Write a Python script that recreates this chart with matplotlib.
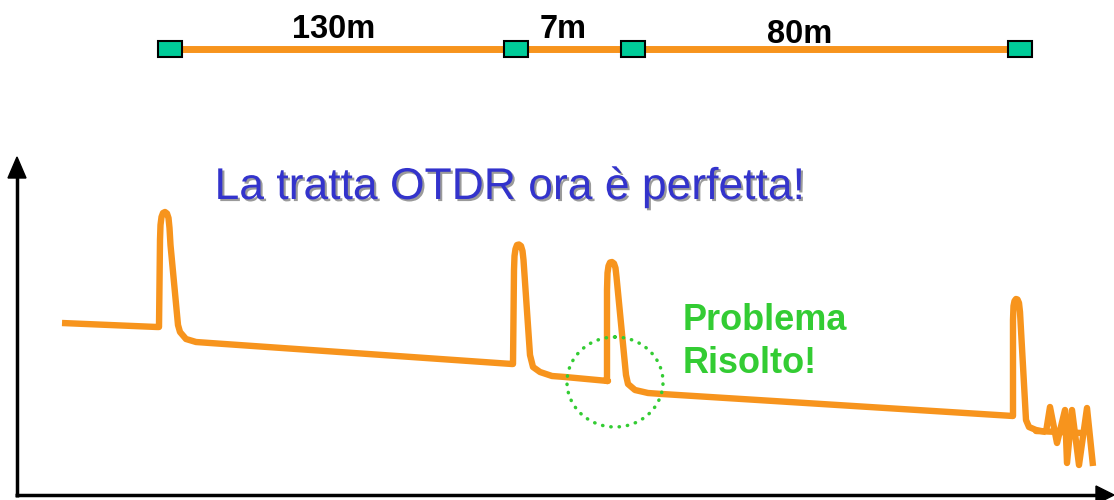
import matplotlib
matplotlib.use('Agg')
import matplotlib.pyplot as plt
import matplotlib.patheffects as pe
from matplotlib.patches import Rectangle, Ellipse, Polygon

plt.rcParams['font.family'] = ['Liberation Sans', 'DejaVu Sans']

# link diagram on top: connector positions and span lengths
connector_x = [170, 516, 633, 1020]
span_labels = ['130m', '7m', '80m']
span_label_x = [334, 563, 800]
span_label_y = [38, 38, 43]

# OTDR trace (distance, level), screen units
trace_x = [62, 157, 159, 160, 160.5, 161.5, 163, 165, 167, 168.5, 169.5, 170.5, 178, 180, 186, 196, 210,
           512, 513, 514, 514.5, 515.5, 517, 519, 521, 522.5, 523.5, 530, 533, 540, 552, 565,
           608, 607, 607, 607.5, 608.5, 610, 612, 614, 615.5, 616.5, 626, 628, 635, 648, 662,
           1013, 1013, 1013.5, 1014.5, 1016, 1017.5, 1019, 1020, 1026, 1029, 1036, 1046]
trace_y = [323, 327, 327, 240, 225, 217, 213, 212, 213.5, 218, 228, 245, 325, 332, 339, 342, 343,
           364, 364, 270, 256, 249, 245, 244.5, 246, 251, 260, 355, 367, 372, 376, 377,
           381, 381, 290, 273, 266, 262.5, 262, 263.5, 268, 277, 375, 384, 390, 393, 394,
           416, 320, 306, 301, 299, 299.5, 303, 312, 420, 427, 430, 432]
# end-of-fibre noise
noise_x = [1046, 1050, 1057, 1065, 1067, 1072, 1079, 1087, 1093]
noise_y = [432, 407, 443, 410, 463, 410, 465, 408, 466]
tail_x = [1036, 1082]
tail_y = [431, 433]

orange = '#F7941D'
green = '#33CC33'
blue = '#3333CC'

fig = plt.figure(figsize=(11.14, 5), dpi=100)
ax = fig.add_axes([0, 0, 1, 1])
ax.set_xlim(0, 1114)
ax.set_ylim(500, 0)
ax.axis('off')

# top link
ax.plot([connector_x[0], connector_x[-1]], [49, 49], color=orange, lw=5, solid_capstyle='butt', zorder=1)
for cx in connector_x:
    ax.add_patch(Rectangle((cx - 12, 41), 24, 16, facecolor='#00CC99', edgecolor='black', lw=1.5, zorder=2))
for lab, lx, ly in zip(span_labels, span_label_x, span_label_y):
    ax.text(lx, ly, lab, ha='center', va='baseline', fontsize=23.5, fontweight='bold', color='black')

# axes arrows
ax.plot([17, 17], [497, 175], color='black', lw=2.5, solid_capstyle='butt')
ax.add_patch(Polygon([[17, 157], [8, 178], [26, 178]], closed=True, color='black'))
ax.plot([15, 1100], [495, 495], color='black', lw=2.5, solid_capstyle='butt')
ax.add_patch(Polygon([[1114, 495], [1096, 486], [1096, 504]], closed=True, color='black'))

# title with shadow
ax.text(510, 199, 'La tratta OTDR ora è perfetta!', ha='center', va='baseline', fontsize=32, color=blue,
        path_effects=[pe.withSimplePatchShadow(offset=(1.5, -1.5), shadow_rgbFace='#9a9a9a', alpha=1)])

# trace
ax.plot(tail_x, tail_y, color=orange, lw=4.6, solid_capstyle='round', zorder=3)
ax.plot(trace_x, trace_y, color=orange, lw=4.6, solid_joinstyle='round', solid_capstyle='butt', zorder=3)
ax.plot(noise_x, noise_y, color=orange, lw=4.6, solid_joinstyle='round', solid_capstyle='butt', zorder=3)

# fixed event
circ = Ellipse((615, 382), 96, 90, fill=False, edgecolor=green, lw=2.5, linestyle=(0, (0.1, 2.3)), zorder=4)
circ.set_capstyle('round')
ax.add_patch(circ)
ax.text(683, 330, 'Problema', ha='left', va='baseline', fontsize=26, fontweight='bold', color=green)
ax.text(683, 373, 'Risolto!', ha='left', va='baseline', fontsize=26, fontweight='bold', color=green)

fig.savefig('out.png', dpi=100)
